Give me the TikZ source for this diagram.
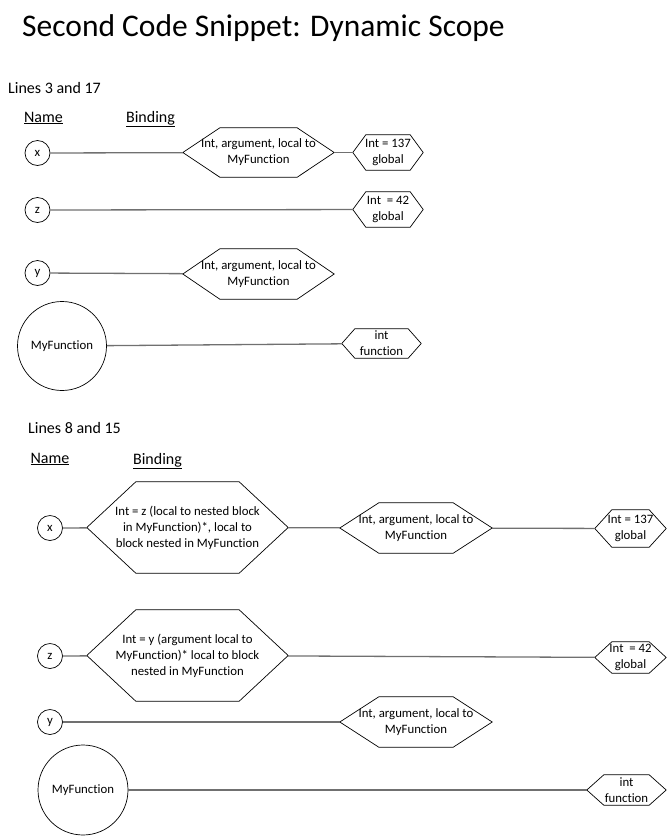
\documentclass[tikz,border=0pt]{standalone}
\usepackage{fontspec}
\setmainfont{Carlito}[Ligatures={NoCommon}]
\definecolor{linkgray}{RGB}{112,112,112}

% hexagon outline round a (borderless) node: name, point depth
\newcommand{\hexframe}[2]{%
  \draw[hexline] (#1.west) -- ([xshift=#2]#1.north west) -- ([xshift=-#2]#1.north east)
    -- (#1.east) -- ([xshift=-#2]#1.south east) -- ([xshift=#2]#1.south west) -- cycle;}

\begin{document}
\begin{tikzpicture}[
  x=1pt,y=-1pt,
  lbl/.style={font=\fontsize{12.8}{16}\selectfont},
  namecirc/.style={lbl,circle,draw=black,line width=0.7pt,minimum size=25,inner sep=0pt},
  funcirc/.style={namecirc,minimum size=89},
  hexbox/.style={lbl,rectangle,draw=none,inner sep=0pt,align=center},
  hexline/.style={draw=black,line width=0.7pt},
  link/.style={draw=linkgray,line width=1.3pt},
  head/.style={font=\fontsize{16}{18}\selectfont,anchor=west,inner sep=0pt},
  colhead/.style={font=\fontsize{16}{18}\selectfont,inner sep=0pt}
]
\useasboundingbox (0,0) rectangle (667,836);

\node[anchor=west,inner sep=0pt,font=\fontsize{31.5}{36}\selectfont] (title) at (22,28) {Second Code Snippet: Dynamic Scope};

% ---- lines 3 and 17
\node[head] (sec1) at (8,88) {Lines 3 and 17};
\node[colhead] (name1) at (43.5,118) {\underline{Name}};
\node[colhead] (bind1) at (150.5,119) {\underline{Binding}};

\node[namecirc] (x1) at (37.5,153) {x};
\node[hexbox,minimum width=151,minimum height=49] (xarg1) at (258.5,152.5) {Int, argument, local to\\MyFunction};
\node[hexbox,minimum width=70,minimum height=35] (xglob1) at (388,152.5) {Int = 137\\global};

\node[namecirc] (z1) at (37.5,210) {z};
\node[hexbox,minimum width=70,minimum height=35] (zglob1) at (388,209.5) {Int\ \ = 42\\global};

\node[namecirc] (y1) at (37.5,273) {y};
\node[hexbox,minimum width=151,minimum height=50] (yarg1) at (258.5,274) {Int, argument, local to\\MyFunction};

\node[funcirc] (f1) at (62,346) {MyFunction};
\node[hexbox,minimum width=79,minimum height=29] (fint1) at (381.5,343.5) {int\\function};

\hexframe{xarg1}{37}
\hexframe{xglob1}{13}
\hexframe{zglob1}{13}
\hexframe{yarg1}{37}
\hexframe{fint1}{13}

\draw[link] (x1) -- (xarg1);
\draw[link] (xarg1) -- (xglob1);
\draw[link] (z1) -- (zglob1);
\draw[link] (y1) -- (yarg1);
\draw[link] (f1) -- (fint1);

% ---- lines 8 and 15
\node[head] (sec2) at (28,428) {Lines 8 and 15};
\node[colhead] (name2) at (50,459) {\underline{Name}};
\node[colhead] (bind2) at (157.5,461) {\underline{Binding}};

\node[namecirc] (x2) at (50,528) {x};
\node[hexbox,minimum width=201,minimum height=91] (xloc2) at (187.5,527.5) {Int = z (local to nested block\\in MyFunction)*, local to\\block nested in MyFunction};
\node[hexbox,minimum width=152,minimum height=50] (xarg2) at (416,528) {Int, argument, local to\\MyFunction};
\node[hexbox,minimum width=71,minimum height=37] (xglob2) at (630.5,528.5) {Int = 137\\global};

\node[namecirc] (z2) at (50,656) {z};
\node[hexbox,minimum width=201,minimum height=91] (zloc2) at (187.5,655.5) {Int = y (argument local to\\MyFunction)* local to block\\nested in MyFunction};
\node[hexbox,minimum width=71,minimum height=31] (zglob2) at (630.5,657.5) {Int\ \ = 42\\global};

\node[namecirc] (y2) at (50,722) {y};
\node[hexbox,minimum width=152,minimum height=50] (yarg2) at (416,722) {Int, argument, local to\\MyFunction};

\node[funcirc,minimum size=90] (f2) at (83,790) {MyFunction};
\node[hexbox,minimum width=79,minimum height=30] (fint2) at (626.5,790) {int\\function};

\hexframe{xloc2}{49}
\hexframe{xarg2}{39}
\hexframe{xglob2}{17}
\hexframe{zloc2}{49}
\hexframe{zglob2}{17}
\hexframe{yarg2}{39}
\hexframe{fint2}{17}

\draw[link] (x2) -- (xloc2);
\draw[link] (xloc2) -- (xarg2);
\draw[link] (xarg2) -- (xglob2);
\draw[link] (z2) -- (zloc2);
\draw[link] (zloc2) -- (zglob2);
\draw[link] (y2) -- (yarg2);
\draw[link] (f2) -- (fint2);
\end{tikzpicture}
\end{document}
